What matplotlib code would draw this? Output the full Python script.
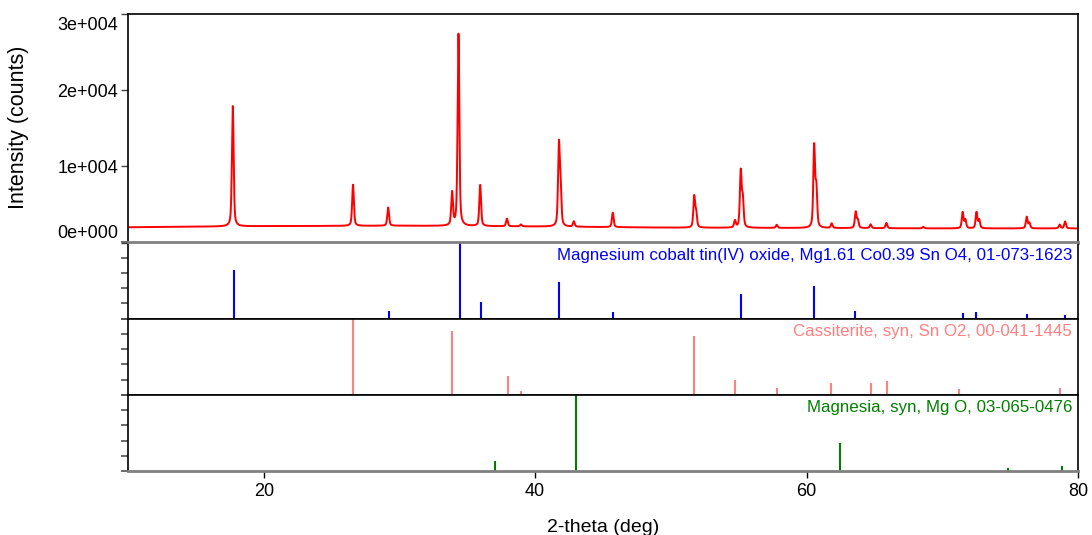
import numpy as np
import matplotlib
matplotlib.use("Agg")
import matplotlib.pyplot as plt
from matplotlib.transforms import ScaledTranslation

plt.rcParams['font.family'] = ['Liberation Sans', 'DejaVu Sans']

# measured pattern: background knots and peaks (2-theta, net counts)
bg_pos = [10, 20, 30, 40, 50, 60, 70, 80]
bg_val = [2000, 2150, 2200, 2100, 1950, 1900, 1850, 1850]

peak_pos = [17.72, 26.58, 29.17, 33.88, 34.35, 35.95, 37.92, 38.95, 41.75, 41.87,
            42.85, 45.72, 51.72, 51.86, 54.72, 55.15, 55.30, 57.80, 60.56, 60.72,
            61.85, 63.62, 63.78, 64.72, 65.88, 68.60, 71.50, 71.70, 72.52, 72.72,
            76.22, 76.42, 78.65, 79.05]
peak_h = [15800, 5400, 2400, 4300, 25200, 5400, 1000, 250, 10300, 4700,
          700, 1900, 4000, 1900, 900, 7300, 3600, 400, 10600, 5000,
          600, 2100, 1000, 500, 700, 200, 2100, 1100, 2100, 1100,
          1500, 700, 500, 900]
fwhm = 0.15

# reference cards (2-theta, relative intensity)
mcto_pos = [17.78, 29.23, 34.44, 36.0, 41.75, 45.7, 55.14, 60.56, 63.6, 71.5, 72.5, 76.25, 79.03]
mcto_int = [63.6, 9.5, 100, 22, 47.8, 8.6, 32.6, 43.5, 9.5, 8, 8.6, 5.6, 4.3]
mcto_label = "Magnesium cobalt tin(IV) oxide, Mg1.61 Co0.39 Sn O4, 01-073-1623"

cass_pos = [26.6, 33.9, 37.97, 38.97, 51.72, 54.72, 57.83, 61.8, 64.72, 65.92, 71.2, 78.67]
cass_int = [100, 83.3, 24.5, 4.4, 76.7, 19.7, 8.8, 15.4, 16, 18.4, 7.5, 9.6]
cass_label = "Cassiterite, syn, Sn O2, 00-041-1445"

mgo_pos = [37.05, 43.0, 62.44, 74.86, 78.8]
mgo_int = [12.5, 100, 36.6, 3.5, 7]
mgo_label = "Magnesia, syn, Mg O, 03-065-0476"

y_ticks = [0, 10000, 20000, 30000]
y_labels = ['0e+000', '1e+004', '2e+004', '3e+004']
x_ticks = [20, 40, 60, 80]


def profile(x):
    y = np.interp(x, bg_pos, bg_val).astype(float)
    g = fwhm / 2
    for p, h in zip(peak_pos, peak_h):
        d = x - p
        lor = 1 / (1 + (d / g) ** 2)
        gau = np.exp(-np.log(2) * (d / g) ** 2)
        y += h * (0.5 * lor + 0.5 * gau)
    return y


tt = np.arange(10, 80.001, 0.01)
counts = profile(tt)

fig = plt.figure(figsize=(10.92, 5.35), dpi=100)
gs = fig.add_gridspec(4, 1, height_ratios=[3, 1, 1, 1], hspace=0,
                      left=128/1092, right=1078/1092, top=1-14/535, bottom=1-471/535)
ax0 = fig.add_subplot(gs[0])
axs = [fig.add_subplot(gs[i], sharex=ax0) for i in range(1, 4)]

ax0.plot(tt, counts, color='#ff0000', lw=1.4)
ax0.set_xlim(10, 80)
ax0.set_ylim(0, 30000)
ax0.set_yticks(y_ticks)
ax0.set_yticklabels(y_labels, fontsize=13)
ax0.tick_params(axis='y', direction='out', length=5, width=1, color='#404040', pad=2)
ax0.tick_params(axis='x', bottom=False, labelbottom=False)
tl = ax0.get_yticklabels()
tl[0].set_va('bottom')
tl[-1].set_va('top')
tl[-1].set_transform(tl[-1].get_transform() + ScaledTranslation(0, -3/100, fig.dpi_scale_trans))
for s in ['top', 'left', 'right']:
    ax0.spines[s].set_color('black')
    ax0.spines[s].set_linewidth(1.2)
ax0.spines['bottom'].set_color('#808080')
ax0.spines['bottom'].set_linewidth(2)

cards = [(mcto_pos, mcto_int, mcto_label, '#0000ff'),
         (cass_pos, cass_int, cass_label, '#ff8080'),
         (mgo_pos, mgo_int, mgo_label, '#008000')]

for i, (ax, (pos, inten, lab, col)) in enumerate(zip(axs, cards)):
    ax.vlines(pos, 0, inten, colors=col, lw=1.5)
    ax.set_ylim(0, 100)
    ax.set_yticks([0, 20, 40, 60, 80, 100])
    ax.tick_params(axis='y', direction='out', length=5, width=1.2, color='#505050', labelleft=False)
    ax.text(0.9937, 0.93, lab, transform=ax.transAxes, ha='right', va='top',
            color=col, fontsize=12.2)
    for s in ['left', 'right', 'top', 'bottom']:
        ax.spines[s].set_color('black')
        ax.spines[s].set_linewidth(1.2)
    if i == 0:
        ax.spines['top'].set_color('#808080')
        ax.spines['top'].set_linewidth(2)
    if i < 2:
        ax.tick_params(axis='x', bottom=False, labelbottom=False)

axs[-1].spines['bottom'].set_color('#808080')
axs[-1].spines['bottom'].set_linewidth(2)
axs[-1].set_xticks(x_ticks)
axs[-1].tick_params(axis='x', direction='out', length=5, width=1, color='black',
                    labelsize=13, pad=4)

fig.text(19/1092, 1-127/535, 'Intensity (counts)', rotation=90, ha='center', va='center', fontsize=15.5)
fig.text(603/1092, 1-527/535, '2-theta (deg)', ha='center', va='center', fontsize=14)

fig.savefig('out.png', dpi=100)
